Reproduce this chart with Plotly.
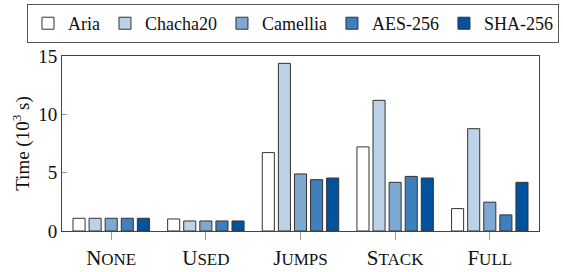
import plotly.graph_objects as go

categories = ["NONE", "USED", "JUMPS", "STACK", "FULL"]
cat_labels = [
    "N<span style='font-size:17px'>ONE</span>",
    "U<span style='font-size:17px'>SED</span>",
    "J<span style='font-size:17px'>UMPS</span>",
    "S<span style='font-size:17px'>TACK</span>",
    "F<span style='font-size:17px'>ULL</span>",
]
series_names = ["Aria", "Chacha20", "Camellia", "AES-256", "SHA-256"]
aria = [1.09, 1.03, 6.72, 7.21, 1.92]
chacha20 = [1.09, 0.86, 14.37, 11.2, 8.77]
camellia = [1.09, 0.86, 4.89, 4.17, 2.47]
aes256 = [1.09, 0.86, 4.40, 4.68, 1.38]
sha256 = [1.09, 0.86, 4.54, 4.54, 4.17]
colors = ["#ffffff", "#bdd2e7", "#7ca8d1", "#3f80bc", "#02529f"]

FONT = "Liberation Serif"

fig = go.Figure()
for name, vals, col in zip(series_names, [aria, chacha20, camellia, aes256, sha256], colors):
    fig.add_trace(go.Bar(
        x=cat_labels, y=vals, name=name,
        marker=dict(color=col, line=dict(color="#333333", width=1)),
    ))

fig.update_layout(
    width=563, height=272,
    margin=dict(l=62, r=24, t=56, b=41, autoexpand=False),
    barmode="group", bargap=0.15, bargroupgap=0.25,
    plot_bgcolor="white", paper_bgcolor="white",
    font=dict(family=FONT, size=19, color="#111111"),
    showlegend=True,
    legend=dict(
        orientation="h", x=-0.0734, y=1.297, xanchor="left", yanchor="top",
        bordercolor="#555555", borderwidth=1, font=dict(family=FONT, size=18),
        itemwidth=30, tracegroupgap=0, traceorder="normal",
    ),
    xaxis=dict(
        range=[-0.52, 4.52], showline=True, mirror=True, linecolor="#444444", linewidth=1,
        ticks="outside", ticklen=8, tickcolor="#999999", showgrid=False,
        tickfont=dict(family=FONT, size=21),
    ),
    yaxis=dict(
        range=[0, 15], tickvals=[0, 5, 10, 15], showline=True, mirror=True,
        linecolor="#444444", linewidth=1, ticks="inside", ticklen=5, tickcolor="#999999",
        showgrid=False, zeroline=False, tickfont=dict(family=FONT, size=19),
        title=dict(text="Time (10<sup>3</sup> s)", font=dict(family=FONT, size=19), standoff=3),
    ),
)

fig.write_html(
    "out.html",
    config={"displayModeBar": False},
    post_script="document.body.style.margin='0';document.body.style.overflow='hidden';",
)
